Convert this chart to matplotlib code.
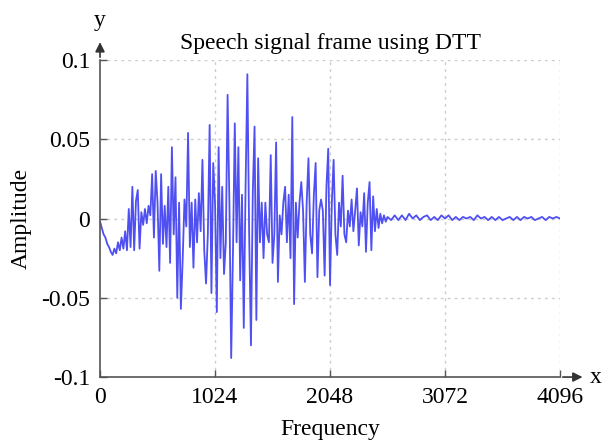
import matplotlib
matplotlib.use("Agg")
import matplotlib.pyplot as plt
import numpy as np

# Valores: tramo activo (paso 16) y cola (paso 32).
step_active = 16
amp_active = [
    -0.002, -0.006, -0.010, -0.012, -0.016, -0.018, -0.021, -0.023, -0.019, -0.022,
    -0.015, -0.020, -0.012, -0.019, -0.008, -0.020, 0.006, -0.018, 0.020, -0.020,
    0.011, 0.018, -0.019, 0.004, -0.004, 0.006, -0.003, 0.008, 0.002, 0.028,
    -0.012, 0.030, 0.010, -0.033, 0.028, -0.016, 0.008, -0.018, 0.020, -0.028,
    0.045, -0.010, 0.026, -0.050, 0.010, -0.057, -0.026, 0.012, -0.005, 0.054,
    -0.018, 0.010, -0.031, 0.012, -0.015, 0.016, -0.008, 0.037, -0.020, -0.041,
    -0.010, 0.059, -0.047, 0.035, 0.010, -0.059, 0.045, -0.025, 0.020, -0.035,
    -0.015, 0.078, 0.010, -0.088, -0.020, 0.060, -0.015, 0.045, -0.039, 0.015,
    -0.069, 0.020, 0.091, -0.010, -0.080, 0.015, 0.058, -0.064, 0.038, -0.015,
    0.010, -0.025, 0.010, -0.010, -0.015, 0.040, -0.028, -0.010, 0.048, -0.040,
    0.002, -0.010, 0.010, 0.020, -0.015, 0.015, -0.025, 0.064, -0.054, 0.010,
    -0.012, 0.010, 0.023, 0.005, -0.040, 0.010, 0.038, -0.010, -0.022, 0.015,
    0.035, -0.037, 0.005, 0.012, 0.005, -0.036, 0.020, 0.044, -0.042, 0.010,
    0.037, -0.010, -0.023, 0.010, -0.005, 0.027, -0.010, -0.015, 0.005, -0.005,
    0.012, -0.008, 0.005, 0.019, -0.017, 0.004, -0.005, 0.016, -0.021, 0.010,
    0.023, -0.020, 0.014, -0.008, 0.006, -0.006, 0.003, -0.003, 0.002, -0.002,
]
step_tail = 32
amp_tail = [
    0.001, -0.001, 0.002, -0.001, 0.002, -0.001, 0.003, 0.000, 0.002, -0.001,
    0.001, 0.002, -0.001, 0.001, -0.001, 0.002, 0.000, 0.002, -0.001, 0.001,
    -0.001, 0.001, 0.000, 0.001, -0.001, 0.002, 0.000, 0.001, -0.001, 0.001,
    -0.001, 0.001, -0.001, 0.000, 0.001, -0.001, 0.001, -0.001, 0.001, 0.000,
    0.001, -0.001, 0.000, 0.001, -0.001, 0.001, 0.000, 0.001, 0.000,
]
xticks = [0, 1024, 2048, 3072, 4096]
yticks = [-0.1, -0.05, 0, 0.05, 0.1]
ytick_labels = ["-0.1", "-0.05", "0", "0.05", "0.1"]

f_active = np.arange(len(amp_active)) * step_active
f_tail = f_active[-1] + step_active + np.arange(len(amp_tail)) * step_tail
freq = np.concatenate([f_active, f_tail])
amp = np.array(amp_active + amp_tail)

plt.rcParams['font.family'] = ['Liberation Serif', 'DejaVu Serif']

fig = plt.figure(figsize=(6.04, 4.41), dpi=100)
ax = fig.add_axes([0.1656, 0.145, 0.7616, 0.719])

ax.plot(freq, amp, color='#4f4ff2', lw=1.3)

ax.set_xlim(0, 4096)
ax.set_ylim(-0.1, 0.1)
ax.set_xticks(xticks)
ax.set_yticks(yticks)
ax.set_yticklabels(ytick_labels)
ax.tick_params(direction='in', length=5, width=1, colors='#555555',
               labelcolor='black', labelsize=17, pad=7)

for s in ['top', 'right']:
    ax.spines[s].set_visible(False)
for s in ['left', 'bottom']:
    ax.spines[s].set_color('#555555')
    ax.spines[s].set_linewidth(1.2)

# Rejilla punteada
for yv in [-0.05, 0, 0.05, 0.1]:
    ax.axhline(yv, color='#cccccc', lw=1, ls=(0, (2, 3)), zorder=0)
for xv in [1024, 2048, 3072, 4096]:
    ax.axvline(xv, color='#cccccc', lw=1, ls=(0, (2, 3)), zorder=0)

# Flechas de los ejes
ax.annotate('', xy=(1.055, 0), xytext=(1.0, 0), xycoords='axes fraction',
            arrowprops=dict(arrowstyle='-|>', color='#333333', lw=1.2, mutation_scale=14),
            annotation_clip=False)
ax.annotate('', xy=(0, 1.065), xytext=(0, 1.0), xycoords='axes fraction',
            arrowprops=dict(arrowstyle='-|>', color='#333333', lw=1.2, mutation_scale=14),
            annotation_clip=False)
ax.text(1.065, 0, 'x', transform=ax.transAxes, fontsize=17, va='center', ha='left')
ax.text(0, 1.09, 'y', transform=ax.transAxes, fontsize=17, va='bottom', ha='center')

ax.set_title('Speech signal frame using DTT', fontsize=17, pad=8)
ax.set_xlabel('Frequency', fontsize=17, labelpad=8)
ax.set_ylabel('Amplitude', fontsize=17, labelpad=7)

fig.savefig('out.png', dpi=100)
